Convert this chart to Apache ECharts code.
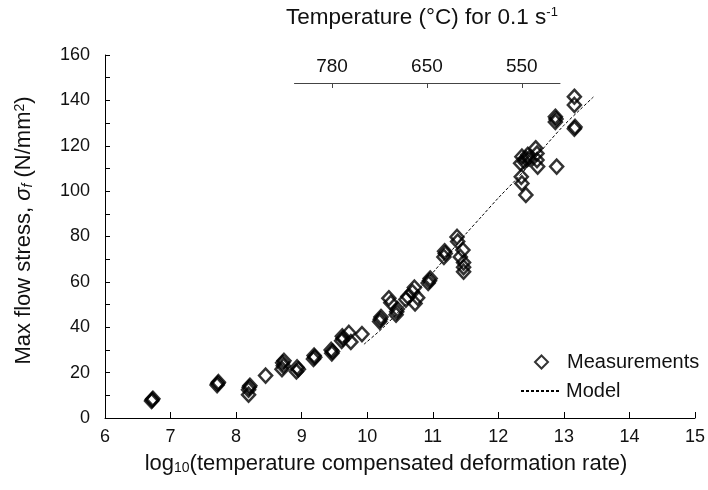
<!DOCTYPE html>
<html>
<head>
<meta charset="utf-8">
<script src="https://cdn.jsdelivr.net/npm/echarts@6/dist/echarts.min.js"></script>
<style>
  html, body { margin: 0; padding: 0; background: #fff; }
  #chart { width: 708px; height: 490px; }
</style>
</head>
<body>
<div id="chart"></div>
<script>
// measured points: log10(Z) vs max flow stress
var measX = [6.71, 6.72, 6.73, 7.71, 7.72, 7.73, 8.19, 8.19, 8.20, 8.21,
  8.45, 8.70, 8.72, 8.71, 8.73, 8.92, 8.95, 8.93, 9.18, 9.20,
  9.19, 9.46, 9.47, 9.45, 9.61, 9.63, 9.62, 9.75, 9.72, 9.92,
  10.19, 10.20, 10.21, 10.33, 10.36, 10.44, 10.45, 10.46, 10.59, 10.62,
  10.69, 10.72, 10.73, 10.77, 10.93, 10.95, 10.96, 11.17, 11.19, 11.18,
  11.37, 11.38, 11.46, 11.42, 11.47, 11.47, 11.47, 12.34, 12.36, 12.42,
  12.47, 12.45, 12.40, 12.35, 12.36, 12.42, 12.57, 12.59, 12.59, 12.60,
  12.89, 12.87, 12.88, 12.87, 13.16, 13.16, 13.16, 13.17];
var measY = [7.5, 8.0, 8.5, 14.5, 15.2, 15.8, 10.3, 12.5, 13.5, 14.2,
  18.7, 21.5, 23.0, 24.3, 25.2, 20.5, 21.5, 22.3, 26.0, 26.8,
  27.5, 28.5, 29.3, 30.0, 34.0, 35.0, 36.0, 33.5, 37.5, 37.0,
  42.5, 43.5, 44.5, 52.8, 50.8, 45.5, 46.8, 48.0, 52.2, 53.5,
  55.5, 57.5, 50.5, 53.0, 59.5, 60.5, 61.5, 71.0, 72.5, 73.5,
  79.8, 77.8, 74.0, 71.0, 68.5, 66.5, 64.5, 112.3, 115.2, 114.4,
  114.4, 116.0, 113.0, 106.3, 103.4, 98.3, 118.9, 116.6, 113.7, 110.8,
  110.8, 130.5, 131.8, 132.8, 141.6, 138.0, 127.5, 128.3];

// model curve
var modelX = [9.95, 10.25, 10.5, 10.75, 11.0, 11.25, 11.5, 11.75, 12.0, 12.25, 12.5, 12.75, 13.0, 13.25, 13.45];
var modelY = [32.5, 40, 47.5, 55.5, 64, 72.5, 81, 89, 97, 104.5, 112.5, 121, 129, 136, 141.5];

// secondary temperature scale (positions in log10 units)
var tempRange = [8.89, 12.92];
var tempTickPos = [9.46, 10.90, 12.34];
var tempTickLabels = ['780', '650', '550'];

var FONT = 'Liberation Sans, Arial, sans-serif';

var measData = measX.map(function (x, i) { return [x, measY[i]]; });
var modelData = modelX.map(function (x, i) { return [x, modelY[i]]; });

var chart = echarts.init(document.getElementById('chart'));
chart.setOption({
  backgroundColor: '#fff',
  animation: false,
  textStyle: { fontFamily: FONT, color: '#000' },
  title: {
    text: 'Temperature (°C) for 0.1 s{sup|-1}',
    left: 286,
    top: 6,
    padding: 0,
    textStyle: {
      fontFamily: FONT, fontSize: 22.5, fontWeight: 'normal', color: '#111',
      rich: { sup: { fontFamily: FONT, fontSize: 13, verticalAlign: 'top', color: '#111' } }
    }
  },
  legend: [
    {
      data: ['Measurements'],
      left: 534, top: 352,
      padding: 0,
      itemWidth: 13, itemHeight: 13,
      formatter: '{g|}{name}',
      textStyle: {
        fontFamily: FONT, fontSize: 20, color: '#111',
        rich: { g: { width: 14 } }
      }
    },
    {
      data: ['Model'],
      left: 520, top: 381,
      padding: 0,
      itemWidth: 40, itemHeight: 12,
      itemStyle: { color: 'transparent', borderColor: 'transparent', borderWidth: 0 },
      textStyle: { fontFamily: FONT, fontSize: 20, color: '#111' }
    }
  ],
  grid: [
    { left: 105, right: 11, top: 55, bottom: 72 },
    { left: 294.5, width: 265.5, top: 40, height: 43 }
  ],
  xAxis: [
    {
      gridIndex: 0,
      type: 'value',
      min: 6, max: 15, interval: 1,
      name: 'log{sub|10}(temperature compensated deformation rate)',
      nameLocation: 'middle',
      nameGap: 35,
      nameTextStyle: {
        fontFamily: FONT, fontSize: 22, color: '#111',
        padding: [0, 28, 0, 0],
        rich: { sub: { fontFamily: FONT, fontSize: 14, verticalAlign: 'bottom', padding: [7, 0, 0, 0], color: '#111' } }
      },
      splitLine: { show: false },
      axisLine: { onZero: false, lineStyle: { color: '#000', width: 1 } },
      axisTick: { inside: true, length: 6, lineStyle: { color: '#000' } },
      axisLabel: { fontFamily: FONT, fontSize: 18, color: '#111', margin: 10 }
    },
    {
      gridIndex: 1,
      type: 'value',
      position: 'bottom',
      min: tempRange[0], max: tempRange[1],
      splitLine: { show: false },
      axisLine: { lineStyle: { color: '#444', width: 1 } },
      axisTick: { customValues: tempTickPos, length: 5, lineStyle: { color: '#444' } },
      axisLabel: {
        inside: true,
        customValues: tempTickPos,
        margin: 7,
        fontFamily: FONT, fontSize: 19, color: '#111',
        formatter: function (v) {
          var i = tempTickPos.indexOf(v);
          return i >= 0 ? tempTickLabels[i] : '';
        }
      }
    }
  ],
  yAxis: [
    {
      gridIndex: 0,
      type: 'value',
      min: 0, max: 160, interval: 20,
      name: 'Max flow stress, {i|σ}{sub|f} (N/mm{sup|2})',
      nameLocation: 'middle',
      nameGap: 70,
      nameTextStyle: {
        fontFamily: FONT, fontSize: 22, color: '#111',
        padding: [0, 0, 0, 12],
        rich: {
          i: { fontFamily: FONT, fontSize: 22, fontStyle: 'italic', color: '#111' },
          sub: { fontFamily: FONT, fontSize: 14, fontStyle: 'italic', verticalAlign: 'bottom', color: '#111' },
          sup: { fontFamily: FONT, fontSize: 14, verticalAlign: 'top', color: '#111' }
        }
      },
      splitLine: { show: false },
      axisLine: { show: true, onZero: false, lineStyle: { color: '#000', width: 1 } },
      axisTick: { show: true, inside: true, length: 5, lineStyle: { color: '#000' } },
      minorTick: { show: true, splitNumber: 2, length: 5, lineStyle: { color: '#000' } },
      axisLabel: { fontFamily: FONT, fontSize: 18, color: '#111', margin: 15 }
    },
    { gridIndex: 1, type: 'value', show: false, min: 0, max: 1 }
  ],
  series: [
    {
      name: 'Model',
      type: 'line',
      xAxisIndex: 0, yAxisIndex: 0,
      data: modelData,
      symbol: 'none',
      showSymbol: false,
      smooth: 0.3,
      lineStyle: { color: '#000', width: 1, type: [3, 2] },
      itemStyle: { color: '#000' },
      z: 2
    },
    {
      name: 'Measurements',
      type: 'scatter',
      xAxisIndex: 0, yAxisIndex: 0,
      data: measData,
      symbol: 'diamond',
      symbolSize: [13, 14],
      itemStyle: { color: 'rgba(255,255,255,0)', borderColor: '#000', borderWidth: 2.5 },
      z: 3
    }
  ]
});
</script>
</body>
</html>
